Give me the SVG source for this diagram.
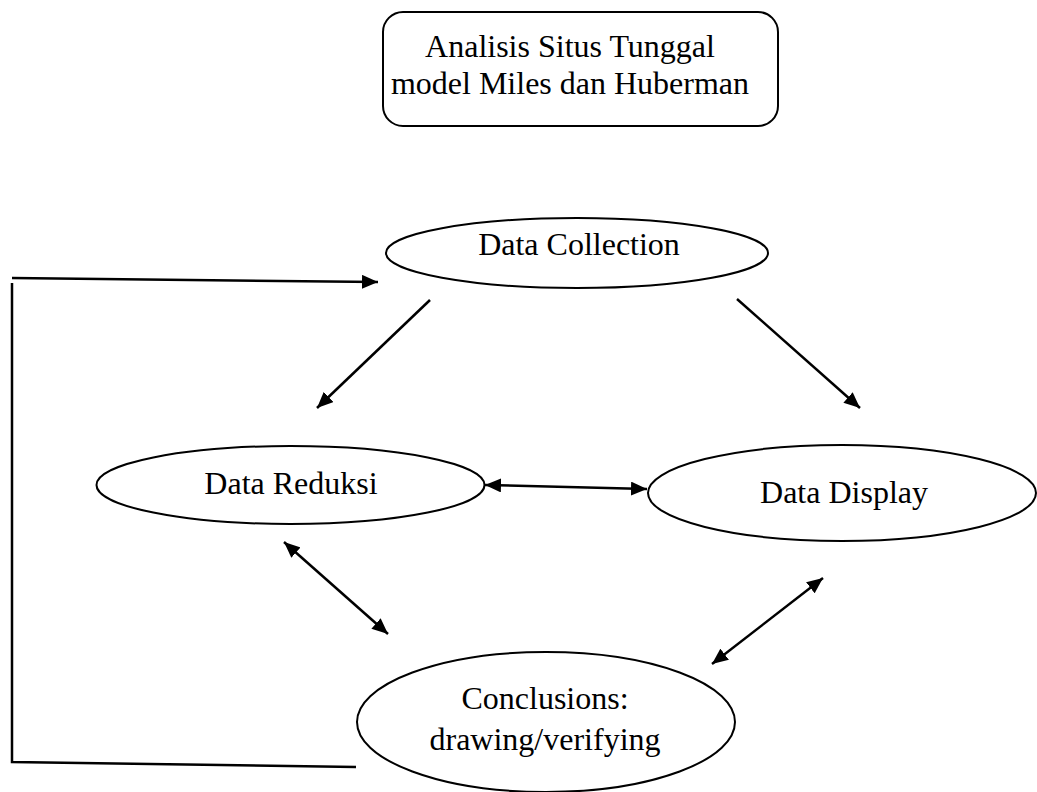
<svg xmlns="http://www.w3.org/2000/svg" width="1037" height="792" viewBox="0 0 1037 792">
<style>
.shape{fill:#fff;stroke:#000;stroke-width:2}
.t{font-family:"Liberation Serif","Times New Roman",serif;font-size:32px;fill:#000;text-anchor:middle}
.c{fill:none;stroke:#000;stroke-width:2.5}
</style>
<defs>
<marker id="ah" viewBox="0 0 16 14" refX="16" refY="7" markerWidth="16" markerHeight="14" markerUnits="userSpaceOnUse" orient="auto-start-reverse">
<path d="M0,0 L16,7 L0,14 Z" fill="#000"/>
</marker>
</defs>
<rect width="1037" height="792" fill="#fff"/>
<g id="title">
<rect class="shape" x="383" y="12" width="395" height="114" rx="20"/>
<text class="t" x="570" y="57">Analisis Situs Tunggal</text>
<text class="t" x="570" y="94">model Miles dan Huberman</text>
</g>
<g id="collection">
<ellipse class="shape" cx="577" cy="253" rx="191" ry="35"/>
<text class="t" x="579" y="255">Data Collection</text>
</g>
<g id="reduksi">
<ellipse class="shape" cx="290.5" cy="485" rx="194" ry="39"/>
<text class="t" x="291" y="494">Data Reduksi</text>
</g>
<g id="display">
<ellipse class="shape" cx="842" cy="493" rx="194" ry="48"/>
<text class="t" x="844" y="503">Data Display</text>
</g>
<g id="conclusions">
<ellipse class="shape" cx="546" cy="722" rx="189" ry="70"/>
<text class="t" x="545" y="709">Conclusions:</text>
<text class="t" x="545" y="750">drawing/verifying</text>
</g>
<g id="connectors">
<line class="c" x1="430" y1="300" x2="317" y2="408" marker-end="url(#ah)"/>
<line class="c" x1="737" y1="299" x2="860" y2="408" marker-end="url(#ah)"/>
<line class="c" x1="485" y1="485" x2="647" y2="489" marker-start="url(#ah)" marker-end="url(#ah)"/>
<line class="c" x1="284" y1="542" x2="388" y2="634" marker-start="url(#ah)" marker-end="url(#ah)"/>
<line class="c" x1="823" y1="578" x2="712" y2="664" marker-start="url(#ah)" marker-end="url(#ah)"/>
<polyline class="c" points="356,767 12,762 12,283"/>
<line class="c" x1="12" y1="278" x2="378" y2="282" marker-end="url(#ah)"/>
</g>
</svg>
